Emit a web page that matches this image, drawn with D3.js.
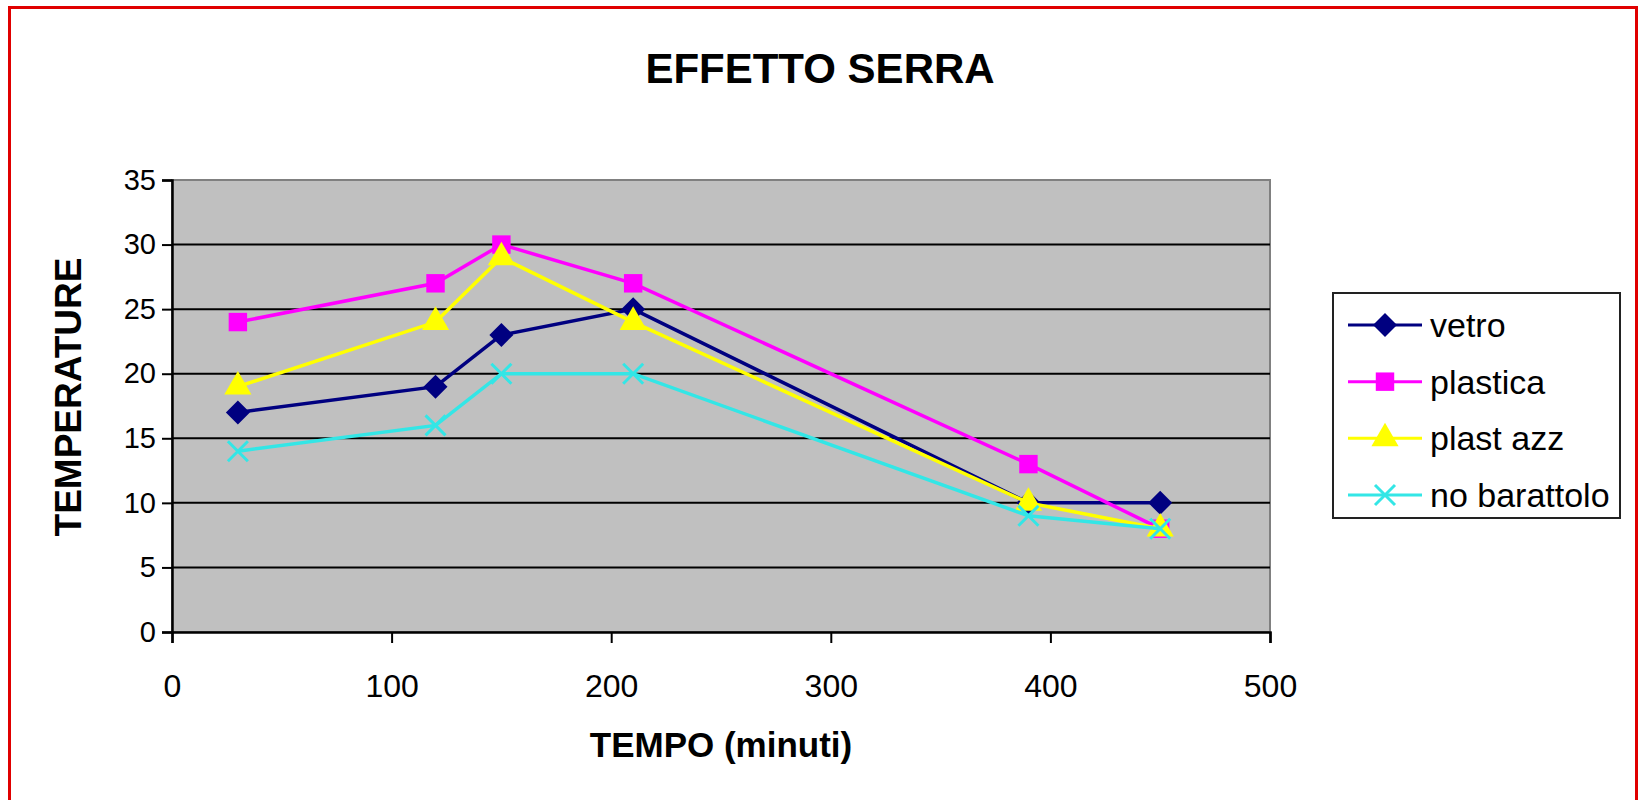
<!DOCTYPE html>
<html>
<head>
<meta charset="utf-8">
<script src="https://cdn.jsdelivr.net/npm/d3@7"></script>
<style>
  body { margin: 0; background: #fff; }
  svg { display: block; font-family: "Liberation Sans", Arial, sans-serif; }
</style>
</head>
<body>
<script>
// data
const minutes = [30, 120, 150, 210, 390, 450];
const vetro = [17, 19, 23, 25, 10, 10];
const plastica = [24, 27, 30, 27, 13, 8];
const plastAzz = [19, 24, 29, 24, 10, 8];
const noBarattolo = [14, 16, 20, 20, 9, 8];
const seriesNames = ["vetro", "plastica", "plast azz", "no barattolo"];
const xTicks = [0, 100, 200, 300, 400, 500];
const yTicks = [0, 5, 10, 15, 20, 25, 30, 35];

const series = [
  {name: seriesNames[0], values: vetro, color: "#000080", marker: "diamond"},
  {name: seriesNames[1], values: plastica, color: "#ff00ff", marker: "square"},
  {name: seriesNames[2], values: plastAzz, color: "#ffff00", marker: "triangle"},
  {name: seriesNames[3], values: noBarattolo, color: "#33e6e6", marker: "cross"}
];

const W = 1638, H = 800;
const plot = {left: 172, top: 180, right: 1270, bottom: 632};

const svg = d3.select("body").append("svg")
  .attr("width", W)
  .attr("height", H);

// red frame
svg.append("rect")
  .attr("x", 9.5).attr("y", 7.5)
  .attr("width", W - 11).attr("height", H + 20)
  .attr("fill", "none")
  .attr("stroke", "#e00000")
  .attr("stroke-width", 3);

let x = d3.scaleLinear().domain([0, 500]).range([plot.left, plot.right]);
let y = d3.scaleLinear().domain([0, 35]).range([plot.bottom, plot.top]);

// plot area
svg.append("rect")
  .attr("x", plot.left).attr("y", plot.top)
  .attr("width", plot.right - plot.left)
  .attr("height", plot.bottom - plot.top)
  .attr("fill", "#c0c0c0")
  .attr("stroke", "#808080")
  .attr("stroke-width", 2);

// gridlines
svg.append("g")
  .selectAll("line")
  .data(yTicks.filter(d => d > 0 && d < 35))
  .join("line")
  .attr("x1", plot.left).attr("x2", plot.right)
  .attr("y1", d => y(d)).attr("y2", d => y(d))
  .attr("stroke", "#000")
  .attr("stroke-width", 2);

// axes
let yAxis = svg.append("g")
  .attr("transform", "translate(" + plot.left + ",0)")
  .call(d3.axisLeft(y).tickValues(yTicks).tickSize(10).tickPadding(6));
let xAxis = svg.append("g")
  .attr("transform", "translate(0," + plot.bottom + ")")
  .call(d3.axisBottom(x).tickValues(xTicks).tickSize(11).tickPadding(31));

[yAxis, xAxis].forEach(a => {
  a.select(".domain").attr("stroke", "#000").attr("stroke-width", 2.5);
  a.selectAll(".tick line").attr("stroke", "#000").attr("stroke-width", 2);
  a.selectAll("text").attr("fill", "#000").style("font-family", "Liberation Sans, Arial, sans-serif");
});
yAxis.selectAll("text").style("font-size", "29px");
xAxis.selectAll("text").style("font-size", "32px");

// titles
svg.append("text")
  .attr("x", 820).attr("y", 83)
  .attr("text-anchor", "middle")
  .style("font-size", "42px")
  .style("font-weight", "bold")
  .text("EFFETTO SERRA");

svg.append("text")
  .attr("x", (plot.left + plot.right) / 2).attr("y", 757)
  .attr("text-anchor", "middle")
  .style("font-size", "35px")
  .style("font-weight", "bold")
  .text("TEMPO (minuti)");

svg.append("text")
  .attr("transform", "translate(81,397) rotate(-90)")
  .attr("text-anchor", "middle")
  .style("font-size", "37px")
  .style("font-weight", "bold")
  .text("TEMPERATURE");

// markers
function drawMarker(g, s, size) {
  let h = size / 2;
  if (s.marker === "cross") {
    g.append("path")
      .attr("d", `M${-h},${-h}L${h},${h}M${-h},${h}L${h},${-h}`)
      .attr("stroke", s.color)
      .attr("stroke-width", 3)
      .attr("fill", "none");
    return;
  }
  if (s.marker === "diamond") {
    h = h * 1.2;
    g.append("path")
      .attr("d", `M0,${-h}L${h},0L0,${h}L${-h},0Z`)
      .attr("fill", s.color);
    return;
  }
  let sym = {square: d3.symbolSquare, triangle: d3.symbolTriangle}[s.marker];
  let area = {square: size * size * 0.85, triangle: size * size * 0.8}[s.marker];
  g.append("path")
    .attr("d", d3.symbol(sym, area)())
    .attr("fill", s.color);
}

let line = d3.line()
  .x((d, i) => x(minutes[i]))
  .y(d => y(d));

series.forEach(s => {
  let g = svg.append("g");
  g.append("path")
    .datum(s.values)
    .attr("d", line)
    .attr("fill", "none")
    .attr("stroke", s.color)
    .attr("stroke-width", 3.5);
  s.values.forEach((v, i) => {
    let m = g.append("g").attr("transform", "translate(" + x(minutes[i]) + "," + y(v) + ")");
    drawMarker(m, s, 20);
  });
});

// legend
let legend = svg.append("g");
legend.append("rect")
  .attr("x", 1333).attr("y", 293)
  .attr("width", 287).attr("height", 225)
  .attr("fill", "#fff")
  .attr("stroke", "#222")
  .attr("stroke-width", 2);

let ly = d3.scalePoint().domain(seriesNames).range([325, 495]);
series.forEach(s => {
  let row = legend.append("g").attr("transform", "translate(0," + ly(s.name) + ")");
  row.append("line")
    .attr("x1", 1348).attr("x2", 1422)
    .attr("stroke", s.color)
    .attr("stroke-width", 3);
  let m = row.append("g").attr("transform", "translate(1385,0)");
  drawMarker(m, s, 20);
  row.append("text")
    .attr("x", 1430).attr("y", 12)
    .style("font-size", "34px")
    .text(s.name);
});
</script>
</body>
</html>
